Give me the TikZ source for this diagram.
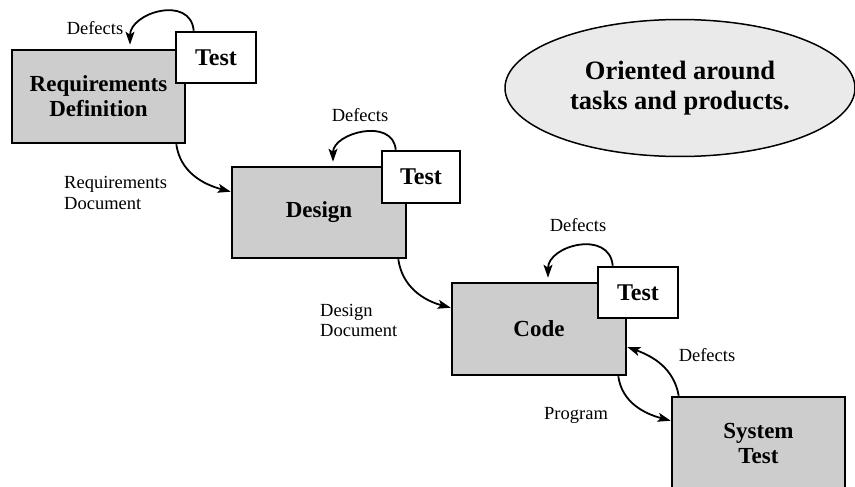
\documentclass[tikz,border=0pt]{standalone}
\usepackage{fontspec}
\setmainfont{Liberation Serif}
\usetikzlibrary{arrows.meta,shapes.geometric}
\definecolor{stagegray}{HTML}{CDCDCD}
\definecolor{notegray}{HTML}{EAEAEA}
\begin{document}
\begin{tikzpicture}[x=1pt, y=1pt,
    stage/.style={rectangle, draw, line width=2.6pt, fill=stagegray, inner sep=0pt, align=center, font=\fontsize{23}{25}\selectfont\bfseries},
    testbox/.style={rectangle, draw, line width=2.6pt, fill=white, inner sep=0pt, font=\fontsize{24}{26}\selectfont\bfseries},
    note/.style={inner sep=0pt, align=left, font=\fontsize{18.5}{20.5}\selectfont},
    flow/.style={-{Stealth[length=13pt, width=9pt, inset=3pt]}, line width=1.8pt},
    loop/.style={flow, shorten >=4pt}
]
    \clip (0,0) rectangle (855,-487);

    % Stages
    \node[stage, minimum width=173, minimum height=93] (reqdef) at (98.5,-96.5) {Requirements\\Definition};
    \node[testbox, minimum width=80, minimum height=51] (reqtest) at (216,-57.5) {Test};
    \node[stage, minimum width=174, minimum height=91] (design) at (319,-212.5) {Design};
    \node[testbox, minimum width=78, minimum height=52] (designtest) at (421,-177) {Test};
    \node[stage, minimum width=174, minimum height=92] (code) at (539,-329) {Code};
    \node[testbox, minimum width=80, minimum height=51] (codetest) at (638,-292.5) {Test};
    \node[stage, minimum width=173, minimum height=93] (systest) at (758.5,-443.5) {System\\Test};

    % Remark
    \node[ellipse, draw, line width=1.5pt, fill=notegray, inner sep=0pt, minimum width=350, minimum height=137,
          align=center, font=\fontsize{26.5}{30}\selectfont\bfseries] (remark) at (680,-88) {Oriented around\\tasks and products.};

    % Defect loops
    \draw[loop] ([xshift=19]reqtest.north west) to[out=95, in=90, looseness=1.4] ([xshift=31.5]reqdef.north);
    \draw[loop] ([xshift=15]designtest.north west) to[out=95, in=90, looseness=1.3] ([xshift=14]design.north);
    \draw[loop] ([xshift=16]codetest.north west) to[out=95, in=90, looseness=1.4] ([xshift=9]code.north);
    \node[note] (reqdefects) at (95,-28) {Defects};
    \node[note] (designdefects) at (360,-115) {Defects};
    \node[note] (codedefects) at (578,-225) {Defects};

    % Products
    \draw[flow] ([xshift=-10]reqdef.south east) to[out=-82, in=165] ([yshift=-26]design.north west);
    \draw[flow] ([xshift=-9]design.south east) to[out=-82, in=165] ([yshift=-26]code.north west);
    \draw[flow] ([xshift=-9]code.south east) to[out=-82, in=165] ([yshift=-25]systest.north west);
    \draw[flow] ([xshift=8]systest.north west) to[out=100, in=-20] ([yshift=-18]code.east);
    \node[note, anchor=west] (reqdoc) at (64,-193) {Requirements\\Document};
    \node[note, anchor=west] (designdoc) at (320,-320.5) {Design\\Document};
    \node[note, anchor=west] (program) at (544,-415) {Program};
    \node[note] (sysdefects) at (707,-355) {Defects};
\end{tikzpicture}
\end{document}
